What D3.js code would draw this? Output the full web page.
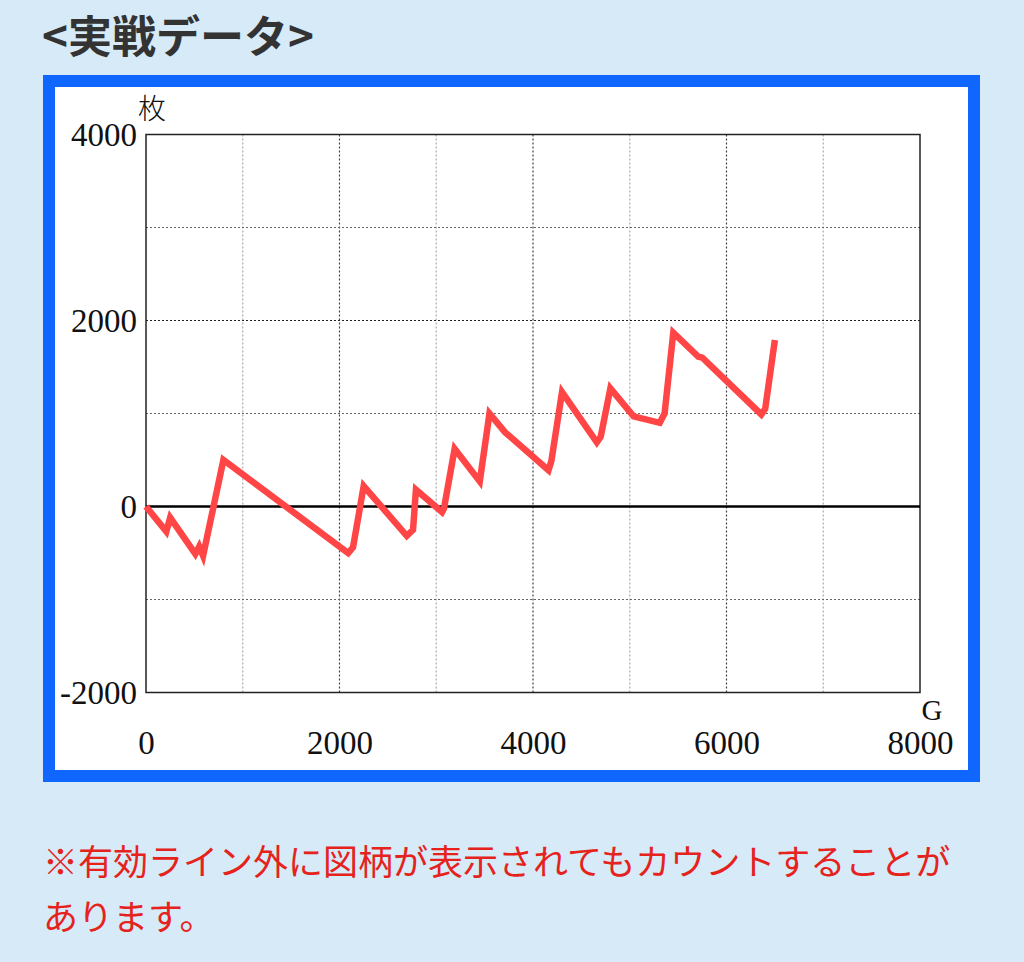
<!DOCTYPE html>
<html>
<head>
<meta charset="utf-8">
<script src="https://cdn.jsdelivr.net/npm/d3@7"></script>
<style>
body { margin: 0; background: #d6eaf8; }
</style>
</head>
<body>
<div class="content"></div>
<script>
// game count (G) and coin difference (枚)
var games = [0, 210, 250, 510, 550, 590, 800, 2090, 2140, 2250, 2695, 2760, 2790, 3060, 3080, 3190, 3450, 3550, 3710, 4160, 4190, 4300, 4660, 4700, 4800, 5040, 5310, 5360, 5450, 5710, 5750, 6360, 6400, 6500];
var coins = [0, -270, -120, -510, -430, -530, 500, -500, -440, 220, -315, -250, 180, -60, -20, 620, 270, 1000, 800, 390, 490, 1230, 690, 750, 1270, 970, 900, 1000, 1870, 1610, 1600, 990, 1050, 1790];
var xTicks = [0, 2000, 4000, 6000, 8000];
var yTicks = [-2000, 0, 2000, 4000];
var xGrid = [1000, 2000, 3000, 4000, 5000, 6000, 7000];
var yGrid = [-1000, 1000, 2000, 3000];

function drawChart() {
var W = 1024, H = 962;
var pl = 146, pr = 920, pt = 134.5, pb = 692.5;

var svg = d3.select(".content").append("svg").attr("width", W).attr("height", H);

svg.append("text").attr("x", 42).attr("y", 53)
	.attr("font-family", "Noto Sans CJK JP").attr("font-weight", "bold")
	.attr("font-size", 44).attr("fill", "#333")
	.text("<実戦データ>");

// frame
svg.append("rect").attr("x", 49).attr("y", 81).attr("width", 925).attr("height", 695)
	.attr("fill", "#fff").attr("stroke", "#0f67ff").attr("stroke-width", 12);

var x = d3.scaleLinear().domain([0, 8000]).range([pl, pr]);
var y = d3.scaleLinear().domain([-2000, 4000]).range([pb, pt]);

svg.append("g").selectAll("line").data(xGrid).enter().append("line")
	.attr("x1", function(d){ return x(d); }).attr("x2", function(d){ return x(d); })
	.attr("y1", pt).attr("y2", pb)
	.attr("stroke", function(d){ return d % 2000 == 0 ? "#444" : "#aaa"; })
	.attr("stroke-width", 1.2).attr("stroke-dasharray", "2,2");
svg.append("g").selectAll("line").data(yGrid).enter().append("line")
	.attr("x1", pl).attr("x2", pr)
	.attr("y1", function(d){ return y(d); }).attr("y2", function(d){ return y(d); })
	.attr("stroke", function(d){ return d % 2000 == 0 ? "#222" : "#666"; })
	.attr("stroke-width", 1.2).attr("stroke-dasharray", "2,2");

svg.append("rect").attr("x", pl).attr("y", pt).attr("width", pr - pl).attr("height", pb - pt)
	.attr("fill", "none").attr("stroke", "#222").attr("stroke-width", 1.5);

svg.append("line").attr("x1", pl).attr("x2", pr).attr("y1", y(0)).attr("y2", y(0))
	.attr("stroke", "#000").attr("stroke-width", 2.5);

var plain = function(d){ return String(d); };

var yAxis = svg.append("g").attr("transform", "translate(" + pl + ",0)")
	.call(d3.axisLeft(y).tickValues(yTicks).tickSize(0).tickPadding(9).tickFormat(plain));
yAxis.select(".domain").remove();
yAxis.selectAll("text").attr("font-family", "Liberation Serif").attr("font-size", 33).attr("fill", "#111");

var xAxis = svg.append("g").attr("transform", "translate(0," + pb + ")")
	.call(d3.axisBottom(x).tickValues(xTicks).tickSize(0).tickFormat(plain));
xAxis.select(".domain").remove();
xAxis.selectAll("text").attr("y", 61).attr("dy", 0)
	.attr("font-family", "Liberation Serif").attr("font-size", 33).attr("fill", "#111");

svg.append("text").attr("x", 932).attr("y", 720).attr("text-anchor", "middle")
	.attr("font-family", "Liberation Serif").attr("font-size", 29).attr("fill", "#111").text("G");
svg.append("text").attr("x", 152).attr("y", 119).attr("text-anchor", "middle")
	.attr("font-family", "Noto Sans CJK JP").attr("font-weight", 300).attr("font-size", 28).attr("fill", "#111").text("枚");

var line = d3.line().x(function(d){ return x(d[0]); }).y(function(d){ return y(d[1]); });
svg.append("path").data([d3.zip(games, coins)]).attr("d", line)
	.attr("fill", "none").attr("stroke", "#ff4545").attr("stroke-width", 6.5);

var note = svg.append("g").attr("font-family", "Noto Sans CJK JP").attr("font-size", 35)
	.attr("fill", "#e5231c");
note.append("text").attr("x", 43).attr("y", 875).text("※有効ライン外に図柄が表示されてもカウントすることが");
note.append("text").attr("x", 43).attr("y", 930).text("あります。");
}
drawChart();
</script>
</body>
</html>
